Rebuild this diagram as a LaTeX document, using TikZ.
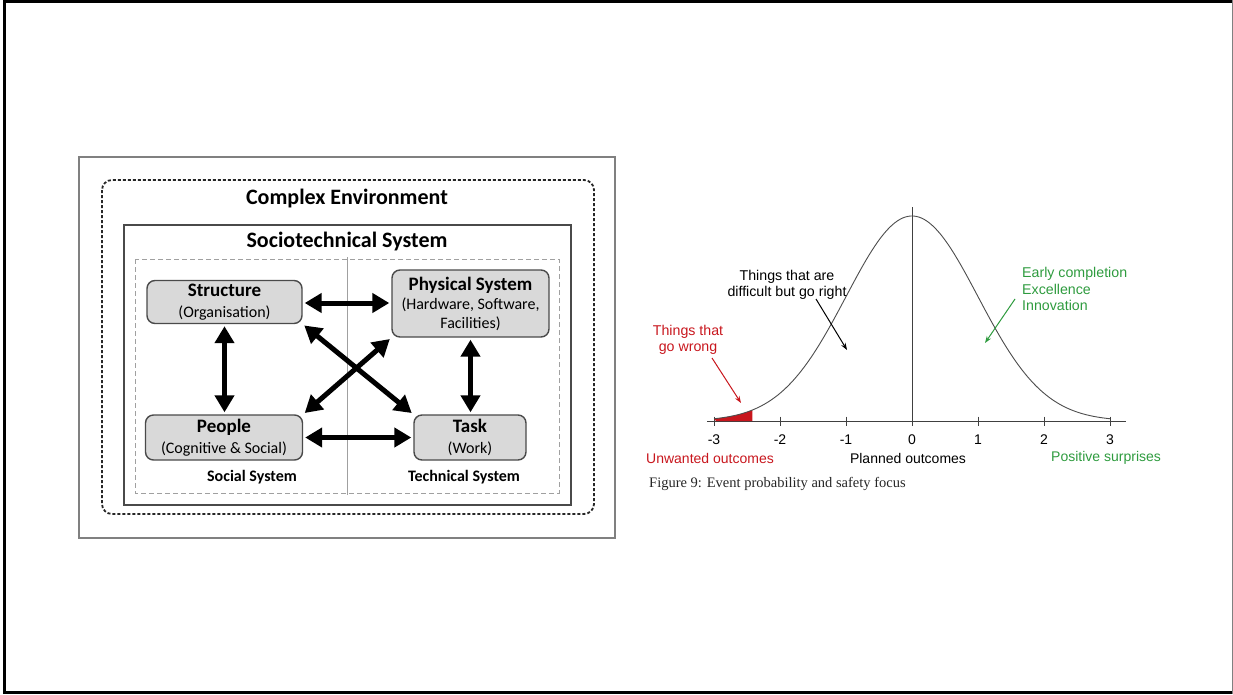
\documentclass[tikz,border=0pt]{standalone}
\usepackage{fontspec}
\setmainfont{Carlito}
\newfontfamily\arialf{Liberation Sans}
\newfontfamily\serf{Liberation Serif}
\usetikzlibrary{arrows.meta}
\definecolor{boxfill}{HTML}{D9D9D9}
\definecolor{boxline}{HTML}{4A4A4A}
\definecolor{frameg}{HTML}{808080}
\definecolor{dashg}{HTML}{A0A0A0}
\definecolor{redc}{HTML}{C8161D}
\definecolor{greenc}{HTML}{2E9B3E}
\newcommand{\bxttl}[1]{{\fontsize{19}{21}\selectfont\bfseries #1}}
\newcommand{\bxsub}[1]{{\fontsize{16}{21}\selectfont #1}}
\begin{document}
\begin{tikzpicture}[x=1pt,y=-1pt,
  elem/.style={draw=boxline, line width=1.4pt, fill=boxfill, rounded corners=8pt, align=center, inner sep=0pt, font=\fontsize{16}{21}\selectfont},
  tw/.style={line width=5pt, {Triangle[length=17pt,width=19pt]}-{Triangle[length=17pt,width=19pt]}, shorten <=2pt, shorten >=2pt},
  charttxt/.style={font=\arialf\fontsize{14.2}{16.5}\selectfont, align=center, inner sep=0pt},
  lbl/.style={font=\arialf\fontsize{14}{16}\selectfont, inner sep=0pt},
  thinarrow/.style={line width=1pt, -{Stealth[length=7pt,width=5pt]}}
  ]
\useasboundingbox (0,0) rectangle (1233,694);
% page frame
\draw[line width=3pt] (1233,1.5) -- (4.5,1.5) -- (4.5,692.5) -- (1233,692.5);
\draw[frameg, line width=1pt] (1232,0) -- (1232,694);

% left panel frames
\draw[frameg, line width=1.2pt] (79,157) rectangle (615,538);
\draw[line width=1.8pt, dash pattern=on 3pt off 2pt, rounded corners=10pt, draw=black!85] (102,180) rectangle (594,514);
\draw[draw=boxline, line width=1.4pt] (124,225) rectangle (571,505);
\draw[dashg, line width=0.9pt, dash pattern=on 5pt off 3pt] (135,259) rectangle (559,493);
\draw[dashg, line width=0.9pt] (347,257) -- (347,495);

\node[font=\fontsize{22}{24}\selectfont\bfseries] (ce) at (347,199) {Complex Environment};
\node[font=\fontsize{22}{24}\selectfont\bfseries] (sts) at (347,242) {Sociotechnical System};

\node[elem, minimum width=155pt, minimum height=43pt] (S) at (224.5,302)
  {\bxttl{Structure}\\\bxsub{(Organisation)}};
\node[elem, minimum width=157pt, minimum height=67pt, font=\fontsize{16}{19}\selectfont] (P) at (470.5,303.5)
  {\bxttl{Physical System}\\\bxsub{(Hardware, Software,}\\\bxsub{Facilities)}};
\node[elem, minimum width=157pt, minimum height=45pt] (Pe) at (224,437.5)
  {\bxttl{People}\\\bxsub{(Cognitive \& Social)}};
\node[elem, minimum width=112pt, minimum height=45pt] (T) at (470,437.5)
  {\bxttl{Task}\\\bxsub{(Work)}};

\node[font=\fontsize{16}{18}\selectfont\bfseries] (soc) at (252,477) {Social System};
\node[font=\fontsize{16}{18}\selectfont\bfseries] (tec) at (464,477) {Technical System};

\draw[tw] (S.east |- 0,303) -- (P.west |- 0,303);
\draw[tw] (S.south) -- (S.south |- Pe.north);
\draw[tw] (P.south) -- (P.south |- T.north);
\draw[tw] (Pe.east) -- (Pe.east -| T.west);
\draw[tw] (S.south east) -- (T.north west);
\draw[tw] (Pe.north east) -- (P.south west);

% right panel: bell curve
\draw[black!75, line width=0.8pt] (707,421) -- (1126,421);
\foreach \i in {-3,...,3} {
  \draw[black!75, line width=0.8pt] ({912+66*\i},416.5) -- ({912+66*\i},426);
  \node[lbl] (tick\i) at ({912+66*\i},440) {\ifnum\i<0 -\number\numexpr-\i\relax\else\i\fi};
}
\draw[black!75, line width=0.9pt] (912,207) -- (912,421);
\fill[redc] (716,421) -- plot[domain=-3:-2.42, samples=20] ({912+66*\x},{421-205*exp(-\x*\x/2)}) -- (752.3,421) -- cycle;
\draw[black!70, line width=0.9pt] plot[domain=-3:3, samples=150, smooth] ({912+66*\x},{421-205*exp(-\x*\x/2)});

\node[charttxt] (dif) at (787,285) {Things that are\\difficult but go right};
\coordinate (difa) at (816,299);
\coordinate (difb) at (847,350);
\draw[thinarrow, black] (difa) -- (difb);

\node[charttxt, text=redc] (wr) at (688,340) {Things that\\go wrong};
\coordinate (wra) at (712,358);
\coordinate (wrb) at (741,403);
\draw[thinarrow, redc] (wra) -- (wrb);

\node[charttxt, text=greenc, align=left, anchor=west] (ex) at (1022,289) {Early completion\\Excellence\\Innovation};
\coordinate (exa) at (1015,299);
\coordinate (exb) at (985,343);
\draw[thinarrow, greenc] (exa) -- (exb);

\node[lbl, text=redc, anchor=west] (uw) at (646,458) {Unwanted outcomes};
\node[lbl] (pl) at (908,458) {Planned outcomes};
\node[lbl, text=greenc, anchor=west] (ps) at (1051,458) {Positive surprises};

\node[font=\serf\fontsize{14.5}{16}\selectfont, anchor=west, inner sep=0pt, text=black!85] (cap) at (649,484) {Figure 9: Event probability and safety focus};
\end{tikzpicture}
\end{document}
